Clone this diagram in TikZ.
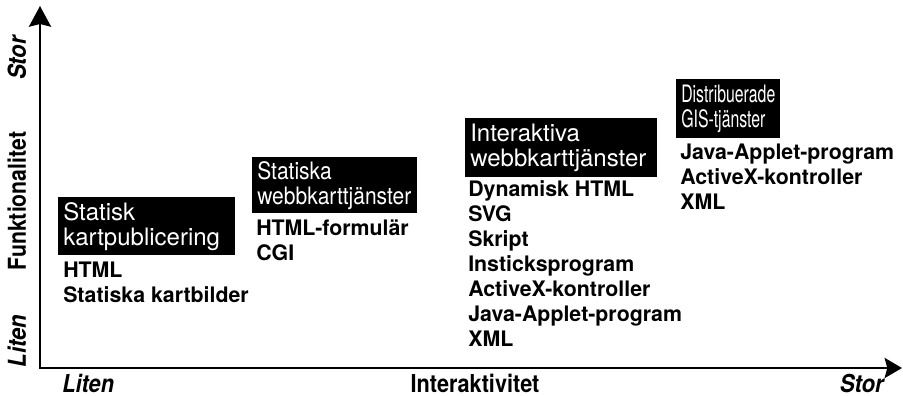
\documentclass[tikz,border=0pt]{standalone}
\usepackage{fontspec}
\setmainfont{TeX Gyre Heros}
\usepackage{graphicx}
\usetikzlibrary{arrows.meta}
% horizontally condensed text
\newcommand\narrow[2]{\scalebox{#1}[1]{#2}}

\begin{document}
\begin{tikzpicture}[x=0.75pt,y=-0.75pt,
  axis/.style={line width=2pt,
    {Stealth[length=15.5pt,width=16.5pt,inset=2pt]}-{Stealth[length=13pt,width=15pt,inset=2pt]}},
  hdr/.style={fill=black, text=white, anchor=north west, inner xsep=3.75pt,
    inner ysep=0pt, align=left, font=\fontsize{18}{18.75}\selectfont},
  items/.style={anchor=north west, inner sep=0pt, align=left,
    font=\bfseries\fontsize{16}{18.75}\selectfont},
  axlabel/.style={inner sep=0pt, font=\bfseries\fontsize{18.5}{20}\selectfont},
]
\useasboundingbox (0,0) rectangle (903,396);

% axes
\coordinate (origin) at (40,368);
\coordinate (ytip) at (40,6);
\coordinate (xtip) at (902,368);
\draw[axis] (ytip) -- (origin) -- (xtip);

% vertical axis labels
\node[axlabel, rotate=90, anchor=base] (ystor) at (26,58) {\narrow{0.9}{\itshape Stor}};
\node[axlabel, rotate=90, anchor=base] (ytitle) at (26,201) {\narrow{0.86}{Funktionalitet}};
\node[axlabel, rotate=90, anchor=base] (yliten) at (26,341) {\narrow{0.9}{\itshape Liten}};

% horizontal axis labels
\node[axlabel, anchor=base west] (xliten) at (62,392) {\narrow{0.88}{\itshape Liten}};
\node[axlabel, anchor=base] (xtitle) at (475,392) {\narrow{0.88}{Interaktivitet}};
\node[axlabel, anchor=base east] (xstor) at (884,392) {\narrow{0.9}{\itshape Stor}};

% stage 1
\node[hdr, text width=125.25pt, minimum height=43.5pt] (box1) at (58,197)
  {Statisk\\kartpublicering};
\node[items] (list1) at (63,261.7) {HTML\\Statiska kartbilder};

% stage 2
\node[hdr, text width=116.25pt, minimum height=42pt] (box2) at (252,157)
  {\narrow{0.875}{Statiska}\\\narrow{0.875}{webbkarttjänster}};
\node[items] (list2) at (256,219.7) {HTML-formulär\\CGI};

% stage 3
\node[hdr, text width=136.5pt, minimum height=44.25pt] (box3) at (465,118)
  {Interaktiva\\webbkarttjänster};
\node[items] (list3) at (468,180.7)
  {Dynamisk HTML\\SVG\\Skript\\Insticksprogram\\ActiveX-kontroller\\Java-Applet-program\\XML};

% stage 4
\node[hdr, text width=70.5pt, minimum height=44.25pt] (box4) at (676,79)
  {\narrow{0.66}{Distribuerade}\\\narrow{0.66}{GIS-tjänster}};
\node[items] (list4) at (680,143.7) {Java-Applet-program\\ActiveX-kontroller\\XML};
\end{tikzpicture}
\end{document}
